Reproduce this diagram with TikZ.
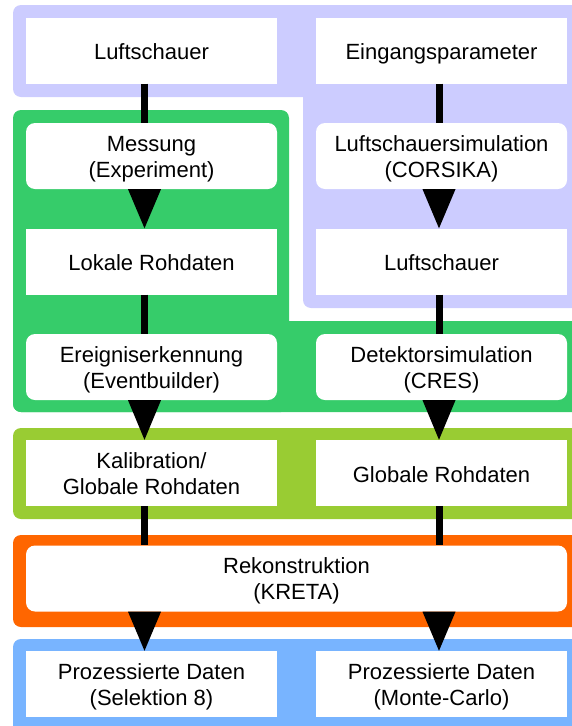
\documentclass[tikz,border=0pt]{standalone}
\usepackage{fontspec}
\setmainfont{Liberation Sans}
\usetikzlibrary{calc}
\definecolor{lav}{HTML}{CCCCFF}
\definecolor{grn}{HTML}{36CC6A}
\definecolor{ygr}{HTML}{99CC33}
\definecolor{org}{HTML}{FF6600}
\definecolor{blu}{HTML}{78B4FF}
\newcommand\oneline[1]{\raisebox{0pt}[18.5pt][0pt]{#1}}
\newcommand\twoline[2]{\raisebox{0pt}[42pt][0pt]{\begin{tabular}[b]{@{}c@{}}#1\\#2\end{tabular}}}
\tikzset{
  box/.style={fill=white, minimum width=251pt, minimum height=66pt, inner sep=0pt, font=\fontsize{22}{26}\selectfont},
  rbox/.style={box, rounded corners=9pt},
  wide/.style={rbox, minimum width=541pt},
  region/.style={rounded corners=8pt},
  conn/.style={line width=7pt},
  tri/.style={fill=black}
}
\begin{document}
\begin{tikzpicture}[x=1pt,y=-1pt]
\useasboundingbox (0,0) rectangle (572,726);
\clip (0,0) rectangle (572,726);
% background regions
\fill[lav, region] (13,5) rectangle (585,97);
\fill[lav, region] (303,5) rectangle (585,308);
\fill[grn, region] (13,110) rectangle (289,412);
\fill[grn, region] (13,321) rectangle (585,412);
\fill[ygr, region] (13,428) rectangle (585,519);
\fill[org, region] (13,535) rectangle (585,627);
\fill[blu, region] (13,639) rectangle (585,740);
% connector columns
\coordinate (lx) at (144.5,0);
\coordinate (rx) at (439,0);
% nodes
\node[box]  (l1) at (151.5,50.5) {\oneline{Luftschauer}};
\node[rbox] (l2) at (151.5,156) {\twoline{Messung}{(Experiment)}};
\node[box]  (l3) at (151.5,261.5) {\oneline{Lokale Rohdaten}};
\node[rbox] (l4) at (151.5,367) {\twoline{Ereigniserkennung}{(Eventbuilder)}};
\node[box]  (l5) at (151.5,473) {\twoline{Kalibration/}{Globale Rohdaten}};
\node[box]  (r1) at (441.5,50.5) {\oneline{Eingangsparameter}};
\node[rbox] (r2) at (441.5,156) {\twoline{Luftschauersimulation}{(CORSIKA)}};
\node[box]  (r3) at (441.5,261.5) {\oneline{Luftschauer}};
\node[rbox] (r4) at (441.5,367) {\twoline{Detektorsimulation}{(CRES)}};
\node[box]  (r5) at (441.5,473) {\oneline{Globale Rohdaten}};
\node[wide] (rk) at (296.5,578.5) {\twoline{Rekonstruktion}{(KRETA)}};
\node[box]  (p1) at (151.5,684) {\twoline{Prozessierte Daten}{(Selektion 8)}};
\node[box]  (p2) at (441.5,684) {\twoline{Prozessierte Daten}{(Monte-Carlo)}};
% plain connectors
\draw[conn] (l1.south -| lx) -- (l2.north -| lx);
\draw[conn] (l3.south -| lx) -- (l4.north -| lx);
\draw[conn] (l5.south -| lx) -- (rk.north -| lx);
\draw[conn] (r1.south -| rx) -- (r2.north -| rx);
\draw[conn] (r3.south -| rx) -- (r4.north -| rx);
\draw[conn] (r5.south -| rx) -- (rk.north -| rx);
% triangle connectors
\fill[tri] ($(l2.south -| lx)+(-16.5,0)$) -- ($(l2.south -| lx)+(16.5,0)$) -- (l3.north -| lx) -- cycle;
\fill[tri] ($(l4.south -| lx)+(-16.5,0)$) -- ($(l4.south -| lx)+(16.5,0)$) -- (l5.north -| lx) -- cycle;
\fill[tri] ($(rk.south -| lx)+(-16.5,0)$) -- ($(rk.south -| lx)+(16.5,0)$) -- (p1.north -| lx) -- cycle;
\fill[tri] ($(r2.south -| rx)+(-16.5,0)$) -- ($(r2.south -| rx)+(16.5,0)$) -- (r3.north -| rx) -- cycle;
\fill[tri] ($(r4.south -| rx)+(-16.5,0)$) -- ($(r4.south -| rx)+(16.5,0)$) -- (r5.north -| rx) -- cycle;
\fill[tri] ($(rk.south -| rx)+(-16.5,0)$) -- ($(rk.south -| rx)+(16.5,0)$) -- (p2.north -| rx) -- cycle;
\end{tikzpicture}
\end{document}
